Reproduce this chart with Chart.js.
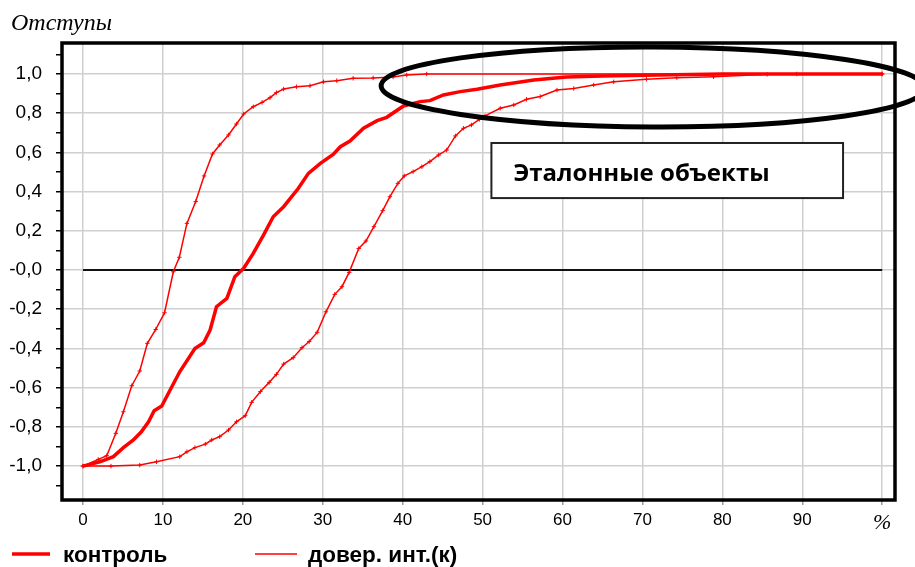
<!DOCTYPE html>
<html>
<head>
<meta charset="utf-8">
<script src="https://cdn.jsdelivr.net/npm/chart.js@4/dist/chart.umd.min.js"></script>
<style>
  html, body { margin: 0; padding: 0; background: #fff; }
  #wrap { width: 915px; height: 567px; }
</style>
</head>
<body>
<div id="wrap"><canvas id="chart" width="915" height="567"></canvas></div>
<script>
// Контроль: доля выборки (%) и значение отступа
const controlX = [0, 2.1, 3.8, 5.05, 6.3, 7.3, 8.2, 8.9, 9.85, 10.9,
  12.1, 14, 15.1, 15.9, 16.7, 18, 19, 20.1, 21.3, 22.6,
  23.8, 25.1, 26.95, 28.2, 29.7, 31.3, 32.2, 33.4, 35.1, 36.8,
  38, 40.1, 42.2, 43.4, 45.1, 47.2, 49.3, 52.2, 56.4, 60.5,
  65, 72, 80, 100];
const controlY = [-1, -0.978, -0.952, -0.906, -0.867, -0.825, -0.774, -0.718, -0.694, -0.612,
  -0.519, -0.4, -0.371, -0.306, -0.187, -0.145, -0.034, 0.009, 0.085, 0.179,
  0.272, 0.323, 0.417, 0.493, 0.544, 0.59, 0.629, 0.658, 0.723, 0.762,
  0.779, 0.837, 0.859, 0.864, 0.893, 0.91, 0.922, 0.944, 0.969, 0.985,
  0.99, 0.995, 1.0, 1.0];

// Верхняя граница доверительного интервала
const upperX = [0, 1.9, 2.97, 4.1, 5.05, 6.1, 7.1, 8.05, 9.1, 10.2,
  11.3, 12.05, 13, 14.1, 15.15, 16.2, 17.1, 18.2, 19.2, 20.1,
  21.3, 22.4, 23.4, 24.2, 25.1, 26.7, 28.4, 30.1, 31.75, 33.8,
  36.3, 38.8, 40.5, 43, 100];
const upperY = [-1, -0.966, -0.947, -0.833, -0.723, -0.59, -0.515, -0.374, -0.303, -0.218,
  -0.009, 0.065, 0.238, 0.349, 0.48, 0.592, 0.638, 0.689, 0.745, 0.796,
  0.833, 0.855, 0.879, 0.905, 0.923, 0.935, 0.94, 0.96, 0.966, 0.978,
  0.98, 0.985, 0.995, 1.0, 1.0];

// Нижняя граница доверительного интервала
const lowerX = [0, 3.5, 7.1, 9.2, 12.1, 13, 14, 15.3, 16.1, 17.1,
  18.2, 19.2, 20.3, 21.1, 22.2, 23.3, 24.2, 25.1, 26.3, 27.4,
  28.3, 29.3, 30.4, 31.5, 32.4, 33.3, 34.5, 35.4, 36.4, 37.5,
  38.4, 39.4, 40.2, 41.3, 42.4, 43.4, 44.5, 45.5, 46.6, 47.6,
  48.6, 49.6, 50.3, 52.2, 53.9, 55.5, 57.2, 59.3, 61.4, 63.9,
  66.4, 70.5, 74.3, 78.9, 85.6, 89.3, 100];
const lowerY = [-1, -1, -0.995, -0.978, -0.952, -0.927, -0.906, -0.888, -0.867, -0.85,
  -0.816, -0.774, -0.743, -0.675, -0.62, -0.573, -0.532, -0.48, -0.447, -0.396,
  -0.365, -0.318, -0.213, -0.124, -0.085, -0.012, 0.11, 0.148, 0.221, 0.303,
  0.374, 0.442, 0.48, 0.502, 0.527, 0.553, 0.587, 0.612, 0.684, 0.723,
  0.74, 0.769, 0.786, 0.825, 0.842, 0.871, 0.885, 0.918, 0.926, 0.944,
  0.96, 0.973, 0.981, 0.986, 0.998, 1.0, 1.0];

// Нулевой уровень
const zeroX = [0, 100];
const zeroY = [0, 0];

// Подписи осей
const xTickValues = [0, 10, 20, 30, 40, 50, 60, 70, 80, 90, 100];
const xTickLabels = ['0', '10', '20', '30', '40', '50', '60', '70', '80', '90', '%'];
const yTickValues = [-1.1, -1.0, -0.9, -0.8, -0.7, -0.6, -0.5, -0.4, -0.3, -0.2, -0.1, 0,
  0.1, 0.2, 0.3, 0.4, 0.5, 0.6, 0.7, 0.8, 0.9, 1.0, 1.1];
const yLabelValues = [1.0, 0.8, 0.6, 0.4, 0.2, 0, -0.2, -0.4, -0.6, -0.8, -1.0];
const yLabelTexts = ['1,0', '0,8', '0,6', '0,4', '0,2', '-0,0', '-0,2', '-0,4', '-0,6', '-0,8', '-1,0'];

const titleText = 'Отступы';
const noteText = 'Эталонные объекты';

// Выноска и овал в координатах данных
const noteBox = { x0: 51.1, x1: 95.1, y0: 0.648, y1: 0.367 };
const ring = { cx: 71.3, cy: 0.934, rx: 34.0, ry: 0.204 };

const RED = '#ff0000';
const pts = (xs, ys) => xs.map((x, i) => ({ x: x, y: ys[i] }));
const labelIndex = v => yLabelValues.findIndex(t => Math.abs(t - v) < 1e-9);

const decor = {
  id: 'decor',
  afterDraw(chart) {
    const ctx = chart.ctx;
    const a = chart.chartArea;
    const xs = chart.scales.x, ys = chart.scales.y;
    ctx.save();

    // рамка области построения
    ctx.strokeStyle = '#000';
    ctx.lineWidth = 3.5;
    ctx.strokeRect(a.left, a.top, a.right - a.left, a.bottom - a.top);

    // выноска
    const bx0 = xs.getPixelForValue(noteBox.x0), bx1 = xs.getPixelForValue(noteBox.x1);
    const by0 = ys.getPixelForValue(noteBox.y0), by1 = ys.getPixelForValue(noteBox.y1);
    ctx.fillStyle = '#fff';
    ctx.fillRect(bx0, by0, bx1 - bx0, by1 - by0);
    ctx.strokeStyle = '#222';
    ctx.lineWidth = 2;
    ctx.strokeRect(bx0, by0, bx1 - bx0, by1 - by0);
    ctx.fillStyle = '#000';
    ctx.font = 'bold 24px "Open Sans", "Noto Sans", sans-serif';
    ctx.textBaseline = 'alphabetic';
    ctx.textAlign = 'left';
    ctx.fillText(noteText, bx0 + 22, by0 + 38);

    // овал
    const cx = xs.getPixelForValue(ring.cx), cy = ys.getPixelForValue(ring.cy);
    const rx = Math.abs(xs.getPixelForValue(ring.cx + ring.rx) - cx);
    const ry = Math.abs(ys.getPixelForValue(ring.cy + ring.ry) - cy);
    ctx.beginPath();
    ctx.ellipse(cx, cy, rx, ry, 0.004, 0, Math.PI * 2);
    ctx.strokeStyle = '#000';
    ctx.lineWidth = 5;
    ctx.stroke();

    // заголовок оси Y
    ctx.fillStyle = '#000';
    ctx.font = 'italic 24px "Liberation Serif", "DejaVu Serif", serif';
    ctx.fillText(titleText, 11, 30);

    // легенда
    const ds = chart.data.datasets;
    const items = [
      { d: ds[0], x: 12, len: 38, tx: 63 },
      { d: ds[1], x: 255, len: 42, tx: 308 }
    ];
    ctx.font = 'bold 22.5px "Liberation Sans", Arial, sans-serif';
    items.forEach(it => {
      ctx.beginPath();
      ctx.moveTo(it.x, 554);
      ctx.lineTo(it.x + it.len, 554);
      ctx.strokeStyle = it.d.borderColor;
      ctx.lineWidth = it.d.borderWidth;
      ctx.stroke();
      ctx.fillStyle = '#000';
      ctx.fillText(it.d.label, it.tx, 562);
    });
    ctx.restore();
  }
};

new Chart(document.getElementById('chart'), {
  type: 'line',
  data: {
    datasets: [
      { label: 'контроль', data: pts(controlX, controlY), borderColor: RED, backgroundColor: RED,
        borderWidth: 3.5, pointRadius: 0, tension: 0, order: 1 },
      { label: 'довер. инт.(к)', data: pts(upperX, upperY), borderColor: RED, backgroundColor: RED,
        borderWidth: 1.5, pointStyle: 'cross', pointRadius: 2.2, pointBorderWidth: 1, tension: 0, order: 2 },
      { label: 'довер. инт.(к)', data: pts(lowerX, lowerY), borderColor: RED, backgroundColor: RED,
        borderWidth: 1.5, pointStyle: 'cross', pointRadius: 2.2, pointBorderWidth: 1, tension: 0, order: 3 },
      { label: 'ноль', data: pts(zeroX, zeroY), borderColor: '#111', borderWidth: 2,
        pointRadius: 0, tension: 0, order: 4 }
    ]
  },
  options: {
    responsive: false,
    animation: false,
    devicePixelRatio: 1,
    layout: { padding: { top: 43, right: 20, bottom: 37, left: 0 } },
    plugins: { legend: { display: false }, tooltip: { enabled: false } },
    scales: {
      x: {
        type: 'linear', min: -2.63, max: 101.6,
        afterBuildTicks: s => { s.ticks = xTickValues.map(v => ({ value: v })); },
        afterFit: s => { s.height = 30; },
        border: { display: false },
        grid: { color: '#cfcfcf', lineWidth: 1.5, tickLength: 5, tickColor: '#9a9a9a', tickWidth: 1.5 },
        ticks: {
          autoSkip: false, maxRotation: 0, color: '#000', padding: 5,
          callback: (v, i) => xTickLabels[i],
          font: c => (c.index === xTickLabels.length - 1)
            ? { family: '"Liberation Serif", serif', style: 'italic', size: 22 }
            : { family: '"Liberation Sans", Arial, sans-serif', size: 17 }
        }
      },
      y: {
        type: 'linear', min: -1.173, max: 1.158,
        afterBuildTicks: s => { s.ticks = yTickValues.map(v => ({ value: v })); },
        afterFit: s => { s.width = 62; },
        border: { display: false },
        grid: {
          color: c => (c.tick && labelIndex(c.tick.value) >= 0) ? '#cfcfcf' : 'rgba(0,0,0,0)',
          lineWidth: 1.5, tickLength: 6, tickColor: '#000', tickWidth: 1.5
        },
        ticks: {
          autoSkip: false, color: '#000', padding: 14,
          font: { family: '"Liberation Sans", Arial, sans-serif', size: 19 },
          callback: v => { const k = labelIndex(v); return k >= 0 ? yLabelTexts[k] : ''; }
        }
      }
    }
  },
  plugins: [decor]
});
</script>
</body>
</html>
